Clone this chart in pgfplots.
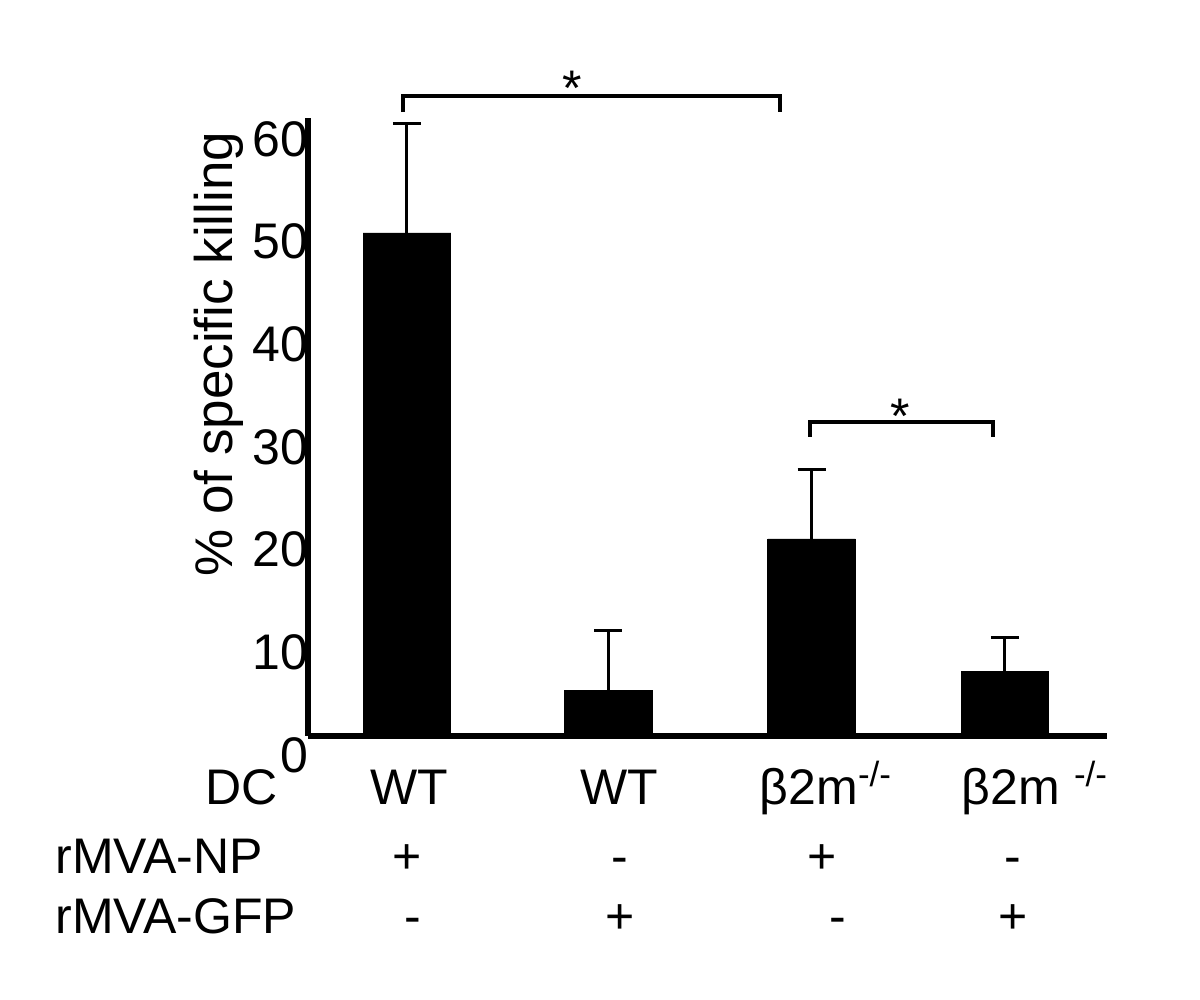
\documentclass[border=0pt]{standalone}
\usepackage{fontspec}
\setmainfont{Liberation Sans}
\usepackage{pgfplots}
\pgfplotsset{compat=1.18}
\usepackage{pgfplotstable}
\newcommand\lab{\fontsize{25}{30}\selectfont}

\pgfplotstableread{
x    y     e
0    49.0  10.7
1.01 4.41  5.9
2.03 19.19 6.8
3    6.33  3.3
}\data

\begin{document}
\begin{tikzpicture}
\useasboundingbox (-154pt,-132pt) rectangle (446pt,368pt);
\begin{axis}[
  at={(0pt,0pt)}, anchor=south west, scale only axis,
  width=399.5pt, height=309pt,
  xmin=-0.4967, xmax=3.512, ymin=0, ymax=60.2,
  axis x line=bottom, axis y line=left,
  axis line style={-, line width=3pt},
  clip=false,
  xtick={0.01,1.064,2.102,3.151},
  xticklabels={WT,WT,{β2m\textsuperscript{-/-}},{β2m \textsuperscript{-/-}}},
  ytick={0,10,20,30,40,50,60},
  major tick length=0pt,
  xtick style={draw=none}, ytick style={draw=none},
  xticklabel style={anchor=base, inner sep=0pt, yshift=-34.5pt, font=\lab},
  yticklabel style={anchor=east, inner sep=0pt, xshift=0.5pt, yshift=-9.5pt, font=\lab},
  /pgf/number format/assume math mode=true,
  ylabel={\% of specific killing},
  ylabel style={at={(rel axis cs:-0.0939,0.618)}, anchor=base, inner sep=0pt, font=\fontsize{26.5}{30}\selectfont},
]
\addplot[ybar, bar width=0.44, fill=black, draw=black,
  error bars/.cd, y dir=plus, y explicit,
  error bar style={line width=1.5pt, black},
  error mark options={rotate=90, line width=1.5pt, mark size=7pt, black}]
  table[x=x, y=y, y error=e]{\data};

% significance brackets
\draw[line width=1.7pt] (axis cs:-0.02,60.78) -- (axis cs:-0.02,62.34) -- (axis cs:1.871,62.34) -- (axis cs:1.871,60.78);
\node[anchor=base, font=\lab, inner sep=0pt] at (axis cs:0.828,61.45) {*};
\draw[line width=1.7pt] (axis cs:2.022,29.13) -- (axis cs:2.022,30.59) -- (axis cs:2.94,30.59) -- (axis cs:2.94,29.13);
\node[anchor=base, font=\lab, inner sep=0pt] at (axis cs:2.473,29.45) {*};

% row labels
\node[anchor=base east, font=\lab, inner sep=0pt] at (axis cs:-0.647,-6.72) {DC};
\node[anchor=base west, font=\lab, inner sep=0pt] at (axis cs:-1.766,-13.35) {rMVA-NP};
\node[anchor=base west, font=\lab, inner sep=0pt] at (axis cs:-1.766,-19.19) {rMVA-GFP};
% rMVA-NP signs
\node[anchor=base, font=\lab, inner sep=0pt] at (axis cs:0,-13.35) {+};
\node[anchor=base, font=\lab, inner sep=0pt] at (axis cs:1.069,-13.35) {-};
\node[anchor=base, font=\lab, inner sep=0pt] at (axis cs:2.082,-13.35) {+};
\node[anchor=base, font=\lab, inner sep=0pt] at (axis cs:3.04,-13.35) {-};
% rMVA-GFP signs
\node[anchor=base, font=\lab, inner sep=0pt] at (axis cs:0.03,-19.19) {-};
\node[anchor=base, font=\lab, inner sep=0pt] at (axis cs:1.069,-19.19) {+};
\node[anchor=base, font=\lab, inner sep=0pt] at (axis cs:2.162,-19.19) {-};
\node[anchor=base, font=\lab, inner sep=0pt] at (axis cs:3.04,-19.19) {+};
\end{axis}
\end{tikzpicture}
\end{document}
